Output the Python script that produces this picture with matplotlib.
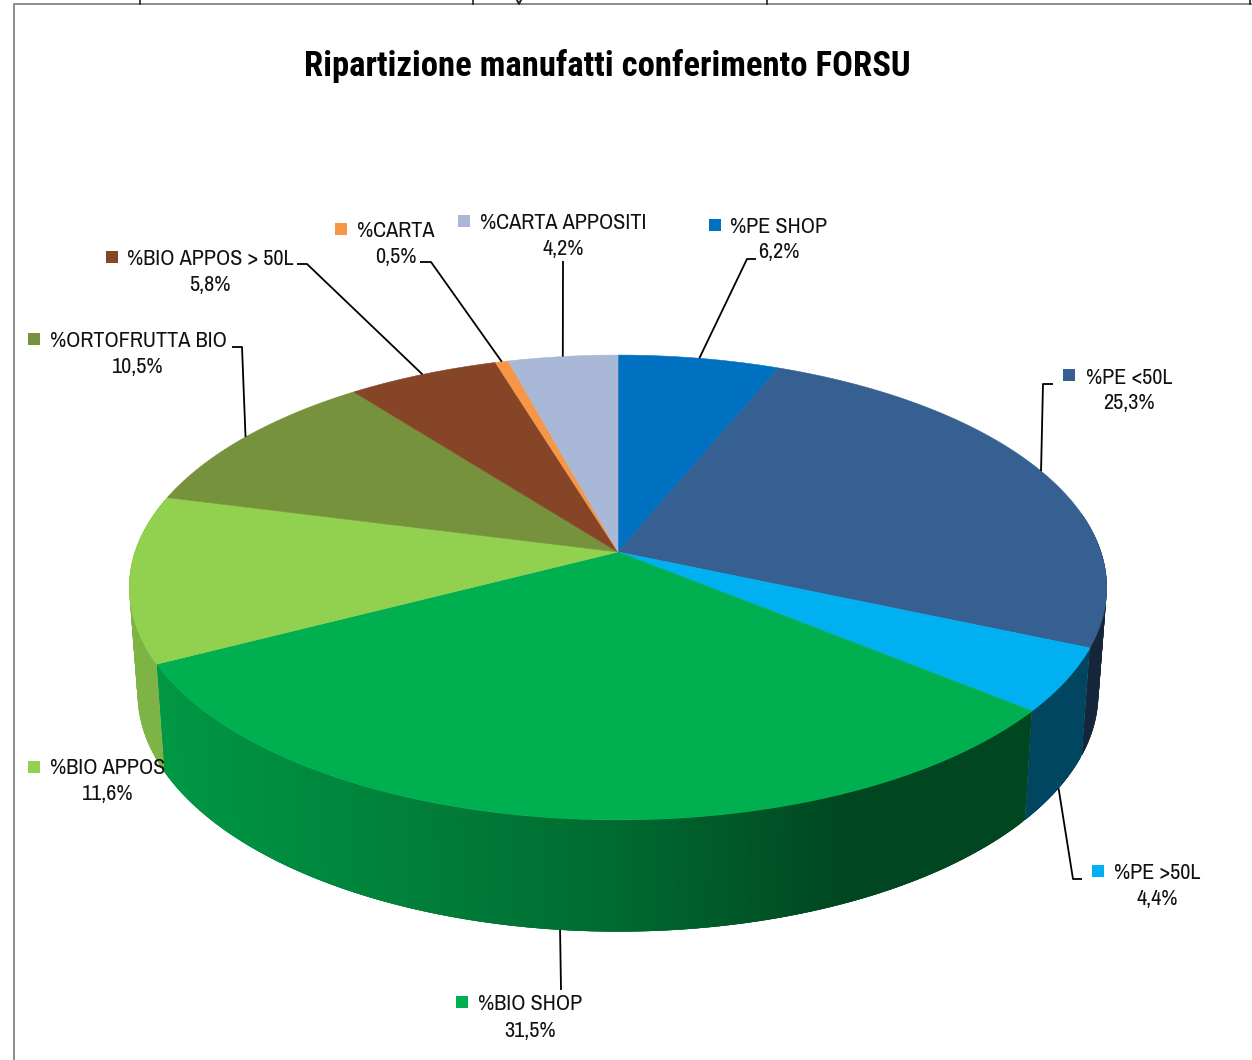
import numpy as np
import matplotlib
matplotlib.use("Agg")
import matplotlib.pyplot as plt
from matplotlib.patches import Polygon, Rectangle

title = "Ripartizione manufatti conferimento FORSU"
categories = ["%PE SHOP", "%PE <50L", "%PE >50L", "%BIO SHOP", "%BIO APPOS",
              "%ORTOFRUTTA BIO", "%BIO APPOS > 50L", "%CARTA", "%CARTA APPOSITI"]
values = [6.2, 25.3, 4.4, 31.5, 11.6, 10.5, 5.8, 0.5, 4.2]
colors = ["#0070C0", "#376092", "#00B0F0", "#00B050", "#92D050",
          "#76923C", "#854526", "#F79646", "#A9B8D6"]

# layout: marker centre, name centre, value centre (pixels), leader elbow points
marker_xy = [(715, 225), (1069, 375), (1098, 871), (462, 1002), (34, 767),
             (34, 339), (112, 257), (341, 229), (464, 221)]
name_xy = [(779, 227), (1129, 378), (1157, 873), (530, 1004), (108, 768),
           (138, 341), (210, 259), (396, 231), (563, 223)]
value_xy = [(779, 252), (1129, 403), (1157, 899), (530, 1031), (108, 794),
            (138, 367), (210, 285), (396, 257), (563, 249)]
elbows = [[(747, 259), (756, 259)], [(1043, 384), (1053, 384)],
          [(1073, 879), (1082, 879)], [(561, 990)], [],
          [(242, 347), (232, 347)], [(307, 264), (297, 264)],
          [(431, 262), (420, 262)], [(563, 261)]]

FONT = ["Archivo Narrow", "Liberation Sans", "DejaVu Sans"]
TITLE_FONT = ["Roboto Condensed", "Liberation Sans", "DejaVu Sans"]
CX, CY = 618, 552
A, B, K = 483, 227, 0.1527
SX, SY, DROP = 0.983, 1.025, 105


def top(theta):
    u, v = np.sin(theta), np.cos(theta)
    d = 1 + K * v
    return CX + A * u / d, CY - B * v / d


def bottom(theta):
    x, y = top(theta)
    return CX + SX * (x - CX), CY + DROP + SY * (y - CY)


def shade(color, x):
    f = np.interp(x, [120, 157, 400, 620, 850, 1033, 1110],
                  [0.87, 0.86, 0.73, 0.60, 0.40, 0.40, 0.40])
    return tuple(np.array(matplotlib.colors.to_rgb(color)) * f)


fig = plt.figure(figsize=(12.52, 10.60), dpi=100)
ax = fig.add_axes([0, 0, 1, 1])
ax.set_xlim(0, 1252)
ax.set_ylim(1060, 0)
ax.axis("off")

# frame of the chart area, cut by the page above
ax.plot([14, 14, 1252], [1060, 4, 4], color="#8C8C8C", lw=1.4, zorder=1)
for sx in [140, 473, 767, 1250]:
    ax.plot([sx, sx], [0, 4], color="#222222", lw=1.2, zorder=1)
ax.plot([517, 519, 521], [0, 4, 0], color="#222222", lw=1.4, zorder=1)

edges = 2 * np.pi * np.concatenate([[0], np.cumsum(values)]) / np.sum(values)

# outer wall: overlapping strips painted in order so no seams show
for i, c in enumerate(colors):
    t0, t1 = edges[i], edges[i + 1]
    lo, hi = max(t0, np.radians(80)), min(t1, np.radians(285))
    if hi <= lo:
        continue
    n = max(2, int((hi - lo) / np.radians(0.5)))
    ts = np.linspace(lo, hi, n + 1)
    for j in range(n):
        a = ts[j]
        sub = np.linspace(a, ts[min(j + 3, n)], 4)
        xt, yt = top(sub)
        xb, yb = bottom(sub)
        col = shade(c, (top(a)[0] + top(ts[j + 1])[0]) / 2)
        pts = list(zip(xt, yt)) + list(zip(xb[::-1], yb[::-1]))
        ax.add_patch(Polygon(pts, closed=True, facecolor=col, edgecolor="none", lw=0, zorder=2))

# top face
for i, c in enumerate(colors):
    ts = np.linspace(edges[i], edges[i + 1], 120)
    xs, ys = top(ts)
    pts = [(CX, CY)] + list(zip(xs, ys))
    ax.add_patch(Polygon(pts, closed=True, facecolor=c, edgecolor=c, lw=0.4, zorder=3))

# leaders, from the middle of each slice's outer edge
for i, el in enumerate(elbows):
    if not el:
        continue
    mid = (edges[i] + edges[i + 1]) / 2
    px, py = bottom(mid) if np.cos(mid) < -0.3 else top(mid)
    xs = [px] + [p[0] for p in el]
    ys = [py] + [p[1] for p in el]
    ax.plot(xs, ys, color="black", lw=1.3, zorder=4, solid_capstyle="butt")

# labels
for i, name in enumerate(categories):
    mx, my = marker_xy[i]
    ax.add_patch(Rectangle((mx - 6, my - 6), 12, 12, facecolor=colors[i], edgecolor="none", zorder=5))
    ax.text(*name_xy[i], name, family=FONT, fontsize=16, ha="center", va="center",
            color="#111111", zorder=6)
    ax.text(*value_xy[i], f"{values[i]:.1f}%".replace(".", ","), family=FONT, fontsize=16,
            ha="center", va="center", color="#111111", zorder=6)

ax.text(607, 66, title, family=TITLE_FONT, fontsize=24.9, fontweight="bold", ha="center",
        va="center", color="black", zorder=6)

fig.savefig("out.png", dpi=100)
